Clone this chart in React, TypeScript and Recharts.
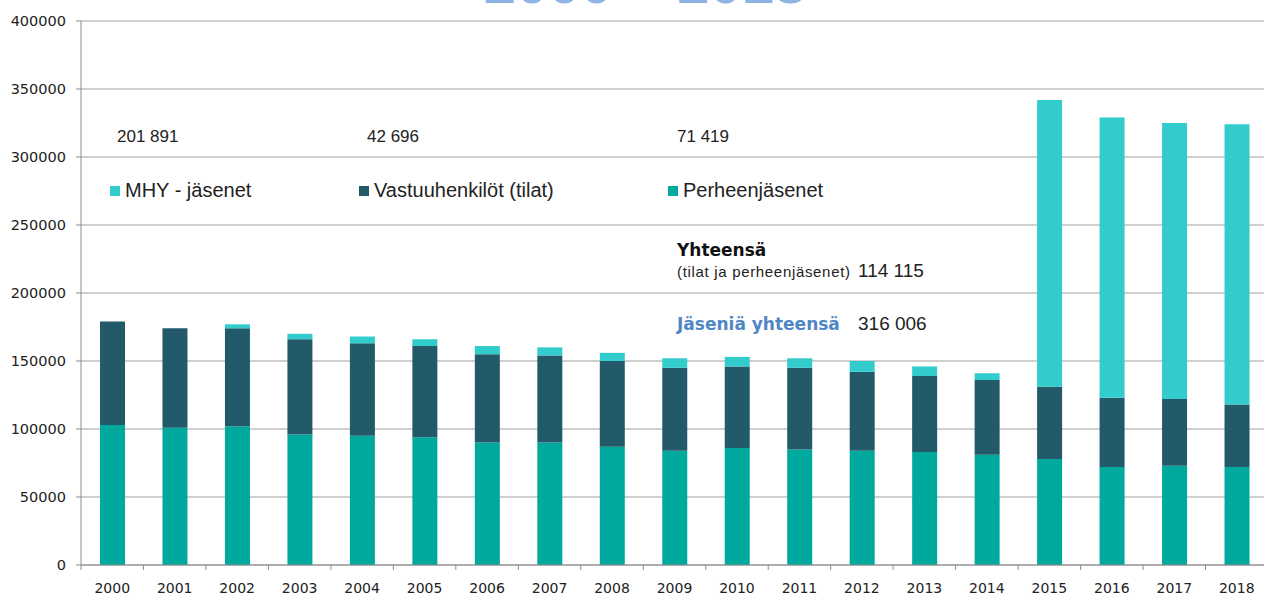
import { BarChart, Bar, XAxis, YAxis, CartesianGrid } from "recharts";

const years = [
  "2000", "2001", "2002", "2003", "2004", "2005", "2006", "2007", "2008", "2009",
  "2010", "2011", "2012", "2013", "2014", "2015", "2016", "2017", "2018",
];
const perheenjasenet = [
  103000, 101000, 102000, 96000, 95000, 94000, 90000, 90000, 87000, 84000,
  86000, 85000, 84000, 83000, 81000, 78000, 72000, 73000, 72000,
];
const vastuuhenkilot = [
  76000, 73000, 72000, 70000, 68000, 67000, 65000, 64000, 63000, 61000,
  60000, 60000, 58000, 56000, 55000, 53000, 51000, 49000, 46000,
];
const mhyJasenet = [
  0, 0, 3000, 4000, 5000, 5000, 6000, 6000, 6000, 7000,
  7000, 7000, 8000, 7000, 5000, 211000, 206000, 203000, 206000,
];
const yTicks = [0, 50000, 100000, 150000, 200000, 250000, 300000, 350000, 400000];

const data = years.map((year, i) => ({
  year,
  perhe: perheenjasenet[i],
  vastuu: vastuuhenkilot[i],
  mhy: mhyJasenet[i],
}));

const legendItems = [
  { label: "MHY - jäsenet", color: "#33CCCC", left: 110 },
  { label: "Vastuuhenkilöt (tilat)", color: "#225A69", left: 359 },
  { label: "Perheenjäsenet", color: "#00A99D", left: 668 },
];

const XTick = (props: any) => {
  const { x, y, payload } = props;
  const half = payload && payload.offset ? payload.offset : 31.2;
  return (
    <g>
      <line x1={x - half} x2={x - half} y1={y - 18} y2={y - 13} stroke="#8c8c8c" />
      <text
        x={x}
        y={y}
        dy="0.71em"
        textAnchor="middle"
        fontFamily="DejaVu Sans"
        fontSize={14}
        fill="#222"
      >
        {payload.value}
      </text>
    </g>
  );
};

export default function App() {
  return (
    <div style={{ position: "absolute", left: 0, top: 0, width: 1264, height: 595, overflow: "hidden", background: "#fff" }}>
      <BarChart
        width={1270}
        height={595}
        data={data}
        margin={{ top: 21, right: 2, left: 0, bottom: 0 }}
        barSize={25}
      >
        <CartesianGrid vertical={false} stroke="#a0a0a0" />
        <XAxis
          dataKey="year"
          height={30}
          stroke="#8c8c8c"
          tickLine={false}
          tickSize={5}
          tickMargin={13}
          tick={<XTick />}
          interval={0}
        />
        <YAxis
          width={81}
          domain={[0, 400000]}
          ticks={yTicks}
          stroke="#8c8c8c"
          tickSize={5}
          tickMargin={10}
          tick={{ fontFamily: "DejaVu Sans", fontSize: 14.5, fill: "#222" }}
        />
        <Bar dataKey="perhe" stackId="a" fill="#00A99D" isAnimationActive={false} />
        <Bar dataKey="vastuu" stackId="a" fill="#225A69" isAnimationActive={false} />
        <Bar dataKey="mhy" stackId="a" fill="#33CCCC" isAnimationActive={false} />
      </BarChart>
      <svg
        width={1264}
        height={595}
        style={{ position: "absolute", left: 0, top: 0, pointerEvents: "none" }}
      >
        {/* title, mostly above the visible area as in the source image */}
        <text x={645} y={3} textAnchor="middle" fontFamily="Liberation Sans" fontWeight="bold" fontSize={58} fill="#8DB4E2">
          2000 – 2018
        </text>
        <g fontFamily="Liberation Sans" fontSize={17} fill="#222">
          <text x={117} y={142}>201 891</text>
          <text x={367} y={142}>42 696</text>
          <text x={677} y={142}>71 419</text>
        </g>
        {legendItems.map((it) => (
          <g key={it.label}>
            <rect x={it.left} y={186} width={10} height={10} fill={it.color} />
            <text x={it.left + 15} y={197} fontFamily="Liberation Sans" fontSize={20} fill="#222">
              {it.label}
            </text>
          </g>
        ))}
        <text x={677} y={256} fontFamily="DejaVu Sans" fontWeight="bold" fontSize={17} fill="#111">
          Yhteensä
        </text>
        <text x={677} y={277} fontFamily="Liberation Sans" fontSize={15} textLength={173} fill="#222">
          (tilat ja perheenjäsenet)
        </text>
        <text x={858} y={277} fontFamily="Liberation Sans" fontSize={19} fill="#222">
          114 115
        </text>
        <text x={677} y={330} fontFamily="DejaVu Sans" fontWeight="bold" fontSize={17} fill="#4F86C6">
          Jäseniä yhteensä
        </text>
        <text x={858} y={330} fontFamily="Liberation Sans" fontSize={19} fill="#222">
          316 006
        </text>
      </svg>
    </div>
  );
}
